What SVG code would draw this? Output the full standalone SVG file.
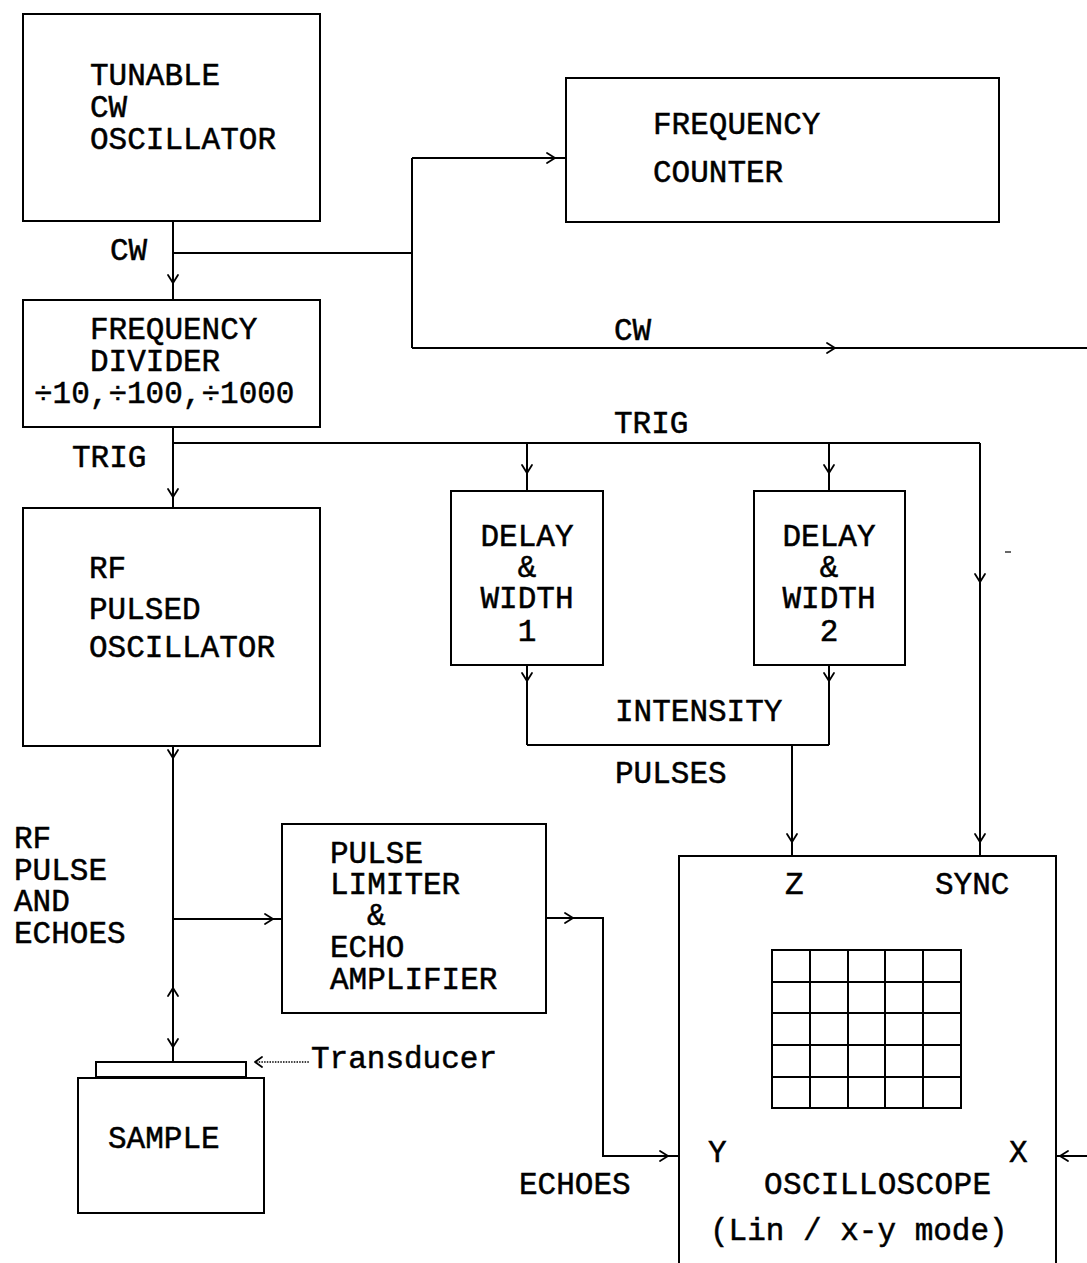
<svg xmlns="http://www.w3.org/2000/svg" width="1087" height="1263" viewBox="0 0 1087 1263">
<style>
.box{fill:none;stroke:#000;stroke-width:2}
.ln{fill:none;stroke:#000;stroke-width:2}
.ah{fill:none;stroke:#000;stroke-width:1.8;stroke-linecap:round;stroke-linejoin:round}
text{font-family:"Liberation Mono","Courier New",monospace;font-size:31px;fill:#000;stroke:#000;stroke-width:0.5}
.mid{text-anchor:middle}
</style>
<defs>
<path id="ahd" class="ah" d="M-5,-8 L0,0 L5,-8"/>
</defs>
<rect width="1087" height="1263" fill="#fff"/>

<g id="tunable-cw-oscillator">
<rect class="box" x="23" y="14" width="297" height="207"/>
<text x="90" y="85">TUNABLE</text>
<text x="90" y="117">CW</text>
<text x="90" y="149">OSCILLATOR</text>
</g>

<g id="frequency-counter">
<rect class="box" x="566" y="78" width="433" height="144"/>
<text x="653" y="134">FREQUENCY</text>
<text x="653" y="182">COUNTER</text>
</g>

<g id="frequency-divider">
<rect class="box" x="23" y="300" width="297" height="127"/>
<text x="90" y="339">FREQUENCY</text>
<text x="90" y="371">DIVIDER</text>
<text x="34" y="403">÷10,÷100,÷1000</text>
</g>

<g id="rf-pulsed-oscillator">
<rect class="box" x="23" y="508" width="297" height="238"/>
<text x="89" y="578">RF</text>
<text x="89" y="619">PULSED</text>
<text x="89" y="657">OSCILLATOR</text>
</g>

<g id="delay-width-1">
<rect class="box" x="451" y="491" width="152" height="174"/>
<text class="mid" x="527" y="546">DELAY</text>
<text class="mid" x="527" y="577">&amp;</text>
<text class="mid" x="527" y="608">WIDTH</text>
<text class="mid" x="527" y="641">1</text>
</g>

<g id="delay-width-2">
<rect class="box" x="754" y="491" width="151" height="174"/>
<text class="mid" x="829" y="546">DELAY</text>
<text class="mid" x="829" y="577">&amp;</text>
<text class="mid" x="829" y="608">WIDTH</text>
<text class="mid" x="829" y="641">2</text>
</g>

<g id="pulse-limiter-echo-amplifier">
<rect class="box" x="282" y="824" width="264" height="189"/>
<text x="330" y="863">PULSE</text>
<text x="330" y="894">LIMITER</text>
<text x="367" y="925">&amp;</text>
<text x="330" y="957">ECHO</text>
<text x="330" y="989">AMPLIFIER</text>
</g>

<g id="sample">
<rect class="box" x="96" y="1062" width="150" height="15"/>
<rect class="box" x="78" y="1078" width="186" height="135"/>
<text x="108" y="1148">SAMPLE</text>
<path class="ah" d="M262,1057 L255,1062 L262,1067"/>
<line x1="256" y1="1062" x2="309" y2="1062" stroke="#000" stroke-width="1.6" stroke-dasharray="1.5,1.2"/>
<text x="311" y="1068">Transducer</text>
</g>

<g id="oscilloscope">
<path class="box" d="M679,1270 V856 H1056 V1270"/>
<text x="785" y="894">Z</text>
<text x="935" y="894">SYNC</text>
<g class="ln">
<rect x="772" y="950" width="189" height="158"/>
<line x1="810" y1="950" x2="810" y2="1108"/>
<line x1="848" y1="950" x2="848" y2="1108"/>
<line x1="885" y1="950" x2="885" y2="1108"/>
<line x1="923" y1="950" x2="923" y2="1108"/>
<line x1="772" y1="982" x2="961" y2="982"/>
<line x1="772" y1="1013" x2="961" y2="1013"/>
<line x1="772" y1="1045" x2="961" y2="1045"/>
<line x1="772" y1="1077" x2="961" y2="1077"/>
</g>
<text x="708" y="1162">Y</text>
<text x="1009" y="1162">X</text>
<text x="764" y="1194" textLength="227" lengthAdjust="spacing">OSCILLOSCOPE</text>
<text x="710" y="1240">(Lin / x-y mode)</text>
</g>

<g id="connectors">
<g class="ln">
<!-- CW from tunable osc to divider and branch -->
<line x1="173" y1="221" x2="173" y2="300"/>
<line x1="173" y1="253" x2="412" y2="253"/>
<line x1="412" y1="158" x2="412" y2="348"/>
<line x1="412" y1="158" x2="566" y2="158"/>
<line x1="412" y1="348" x2="1087" y2="348"/>
<!-- TRIG -->
<line x1="173" y1="427" x2="173" y2="508"/>
<line x1="173" y1="443" x2="980" y2="443"/>
<line x1="527" y1="443" x2="527" y2="491"/>
<line x1="829" y1="443" x2="829" y2="491"/>
<line x1="980" y1="443" x2="980" y2="856"/>
<!-- intensity -->
<line x1="527" y1="665" x2="527" y2="745"/>
<line x1="829" y1="665" x2="829" y2="745"/>
<line x1="527" y1="745" x2="829" y2="745"/>
<line x1="792" y1="745" x2="792" y2="856"/>
<!-- RF pulse and echoes -->
<line x1="173" y1="746" x2="173" y2="1062"/>
<line x1="173" y1="919" x2="282" y2="919"/>
<!-- echoes -->
<path d="M546,918 H603 V1156 H679"/>
<line x1="1056" y1="1156" x2="1087" y2="1156"/>
<line x1="1005" y1="552" x2="1011" y2="552" stroke-width="1.2"/>
</g>
<use href="#ahd" transform="translate(173,283)"/>
<use href="#ahd" transform="translate(555,158) rotate(-90)"/>
<use href="#ahd" transform="translate(835,348) rotate(-90)"/>
<use href="#ahd" transform="translate(173,497)"/>
<use href="#ahd" transform="translate(527,473)"/>
<use href="#ahd" transform="translate(829,473)"/>
<use href="#ahd" transform="translate(980,582)"/>
<use href="#ahd" transform="translate(527,681)"/>
<use href="#ahd" transform="translate(829,681)"/>
<use href="#ahd" transform="translate(792,842)"/>
<use href="#ahd" transform="translate(980,842)"/>
<use href="#ahd" transform="translate(173,758)"/>
<use href="#ahd" transform="translate(273,919) rotate(-90)"/>
<use href="#ahd" transform="translate(173,988) rotate(180)"/>
<use href="#ahd" transform="translate(173,1047)"/>
<use href="#ahd" transform="translate(573,918) rotate(-90)"/>
<use href="#ahd" transform="translate(668,1156) rotate(-90)"/>
<use href="#ahd" transform="translate(1060,1156) rotate(90)"/>
<text x="110" y="260">CW</text>
<text x="614" y="340">CW</text>
<text x="72" y="467">TRIG</text>
<text x="614" y="433">TRIG</text>
<text x="615" y="721">INTENSITY</text>
<text x="615" y="783">PULSES</text>
<text x="14" y="848">RF</text>
<text x="14" y="880">PULSE</text>
<text x="14" y="911">AND</text>
<text x="14" y="943">ECHOES</text>
<text x="519" y="1194">ECHOES</text>
</g>
</svg>
